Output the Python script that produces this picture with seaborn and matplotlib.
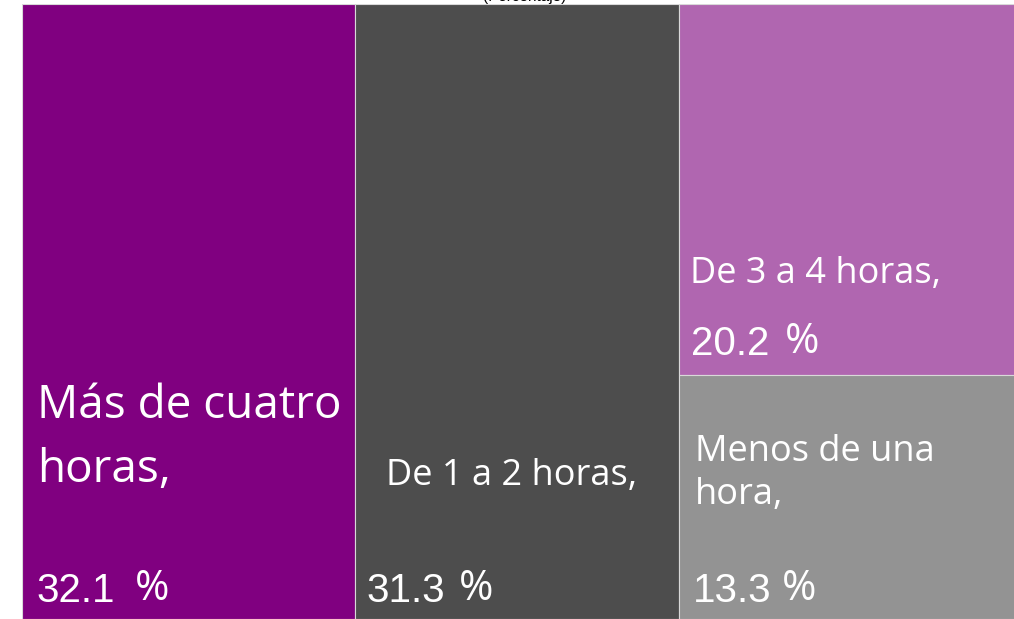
import numpy as np
import pandas as pd
import seaborn as sns
import matplotlib.pyplot as plt

sns.set_style('white')
plt.rcParams['font.family'] = ['Open Sans', 'DejaVu Sans']

# ========== datos ==========
categorias = ['Más de cuatro\nhoras,', 'De 1 a 2 horas,', 'De 3 a 4 horas,', 'Menos de una\nhora,']
valores = [32.1, 31.3, 20.2, 13.3]
colores = ['#800080', '#4d4d4d', '#b066b0', '#939393']
titulo = '(Porcentaje)'

# ========== treemap: 3 columnas, la última partida en dos ==========
total = sum(valores)
col3 = valores[2] + valores[3]
lefts = [0, valores[0], valores[0] + valores[1], valores[0] + valores[1]]
widths = [valores[0], valores[1], col3, col3]
bottoms = [0, 0, valores[3] / col3, 0]
heights = [1, 1, valores[2] / col3, valores[3] / col3]

# el gráfico original queda recortado por la derecha
ancho_px = total * 10.36
fig = plt.figure(figsize=(10.14, 6.19), dpi=100)
ax = fig.add_axes([22 / 1014, 0, ancho_px / 1014, 615 / 619])
ax.bar(lefts, heights, width=widths, bottom=bottoms, align='edge',
       color=colores, edgecolor='#d9d9d9', linewidth=0.8)
ax.set_xlim(0, total)
ax.set_ylim(0, 1)
ax.axis('off')

px = total / ancho_px  # unidades de x por pixel
py = 1 / 615


def yy(ypix):
    return (619 - ypix) * py


num_font = ['Liberation Sans', 'DejaVu Sans']

# etiquetas de categoría
ax.text(lefts[0] + 15 * px, yy(482), categorias[0], color='white', fontsize=33,
        va='baseline', ha='left', linespacing=1.5)
ax.text(lefts[1] + 31 * px, yy(485), categorias[1], color='white', fontsize=26,
        va='baseline', ha='left')
ax.text(lefts[2] + 11 * px, yy(283), categorias[2], color='white', fontsize=26,
        va='baseline', ha='left')
ax.text(lefts[3] + 16 * px, yy(504), categorias[3], color='white', fontsize=26,
        va='baseline', ha='left', linespacing=1.25)

# porcentajes: número y signo por separado
pos_num = [(lefts[0] + 14 * px, yy(602)), (lefts[1] + 12 * px, yy(602)),
           (lefts[2] + 12 * px, yy(355)), (lefts[3] + 14 * px, yy(602))]
pos_sig = [lefts[0] + 113 * px, lefts[1] + 104 * px,
           lefts[2] + 106 * px, lefts[3] + 103 * px]
for v, (x, y), xs in zip(valores, pos_num, pos_sig):
    ax.text(x, y, f'{v:.1f}', color='white', fontsize=29, family=num_font,
            va='baseline', ha='left')
    ax.text(xs, y + 2 * py, '%', color='white', fontsize=30,
            va='baseline', ha='left')

fig.text(525 / 1014, 1 - 1 / 619, titulo, ha='center', va='baseline', fontsize=11,
         color='black', family=['Liberation Sans', 'DejaVu Sans'])

fig.savefig('out.png', dpi=100)
